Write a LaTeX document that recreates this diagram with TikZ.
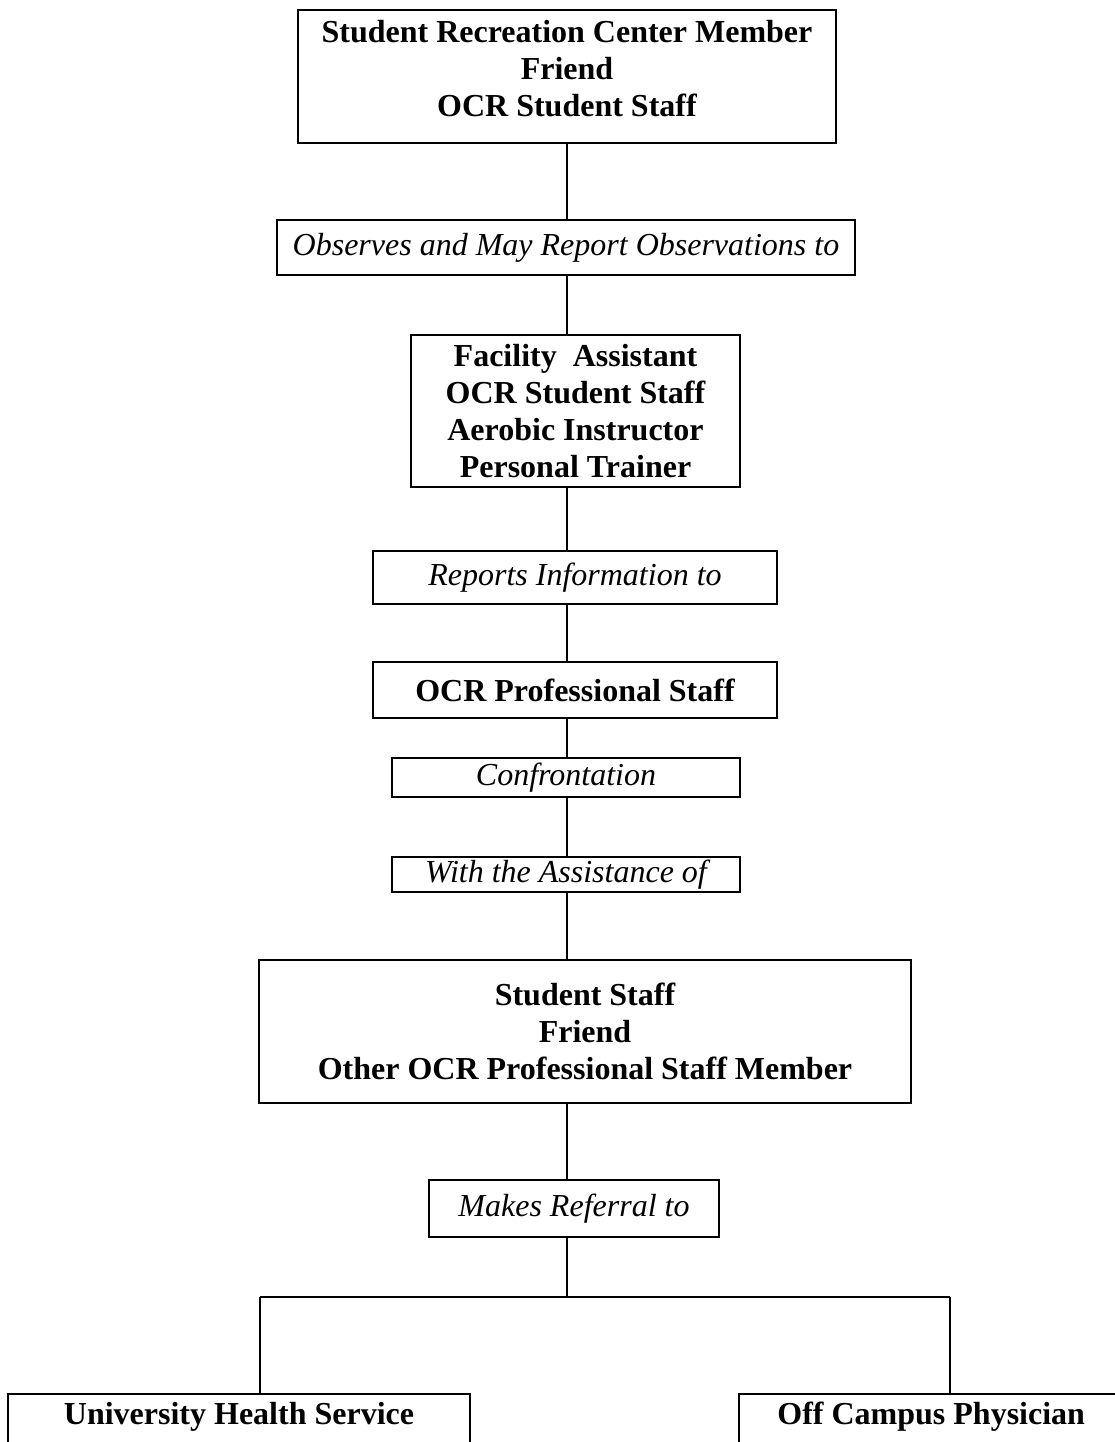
\documentclass[tikz,border=0pt]{standalone}
\usepackage{fontspec}
\setmainfont{Liberation Serif}
\tikzset{
  box/.style={draw, line width=1.2pt, align=center, inner sep=0pt,
    font=\fontsize{16}{18.5}\selectfont\bfseries},
  tag/.style={draw, line width=1.2pt, align=center, inner sep=0pt,
    font=\fontsize{16}{18.5}\selectfont\itshape},
  endbox/.style={draw, line width=1.2pt, inner sep=0pt, text height=15pt, text depth=45pt,
    font=\fontsize{16}{18.5}\selectfont\bfseries},
  link/.style={line width=1pt}
}
\begin{document}
\begin{tikzpicture}[x=0.5pt,y=-0.5pt]
  \clip (0,0) rectangle (1115,1442);
  \coordinate (spine) at (567,0);
  % boxes
  \node[box, minimum width=269pt, minimum height=66.5pt] (member) at (567,76.5)
    {Student Recreation Center Member\\Friend\\OCR Student Staff\\[-10pt]};
  \node[tag, minimum width=289pt, minimum height=27.5pt] (observes) at (566,247.5)
    {Observes and May Report Observations to};
  \node[box, minimum width=164.5pt, minimum height=76pt] (assist) at (575.5,411)
    {Facility~ Assistant\\OCR Student Staff\\Aerobic Instructor\\Personal Trainer};
  \node[tag, minimum width=202pt, minimum height=26.5pt] (reports) at (575,577.5)
    {Reports Information to};
  \node[box, minimum width=202pt, minimum height=28pt] (prof) at (575,690)
    {OCR Professional Staff};
  \node[tag, minimum width=174pt, minimum height=19.5pt] (confront) at (566,777.5)
    {Confrontation};
  \node[tag, minimum width=174pt, minimum height=17.5pt] (withof) at (566,874.5)
    {With the Assistance of};
  \node[box, minimum width=326pt, minimum height=71.5pt] (support) at (585,1031.5)
    {Student Staff\\Friend\\Other OCR Professional Staff Member};
  \node[tag, minimum width=145pt, minimum height=28.5pt] (referral) at (574,1208.5)
    {Makes Referral to};
  \node[endbox, anchor=north, minimum width=231pt] (uhs) at (239,1393)
    {University Health Service};
  \node[endbox, anchor=north west, minimum width=192pt] (physician) at (738,1393)
    {Off Campus Physician};
  % spine
  \draw[link] (spine |- member.south) -- (spine |- observes.north);
  \draw[link] (spine |- observes.south) -- (spine |- assist.north);
  \draw[link] (spine |- assist.south) -- (spine |- reports.north);
  \draw[link] (spine |- reports.south) -- (spine |- prof.north);
  \draw[link] (spine |- prof.south) -- (spine |- confront.north);
  \draw[link] (spine |- confront.south) -- (spine |- withof.north);
  \draw[link] (spine |- withof.south) -- (spine |- support.north);
  \draw[link] (spine |- support.south) -- (spine |- referral.north);
  %split
  \coordinate (split) at (567,1297);
  \coordinate (leftdrop) at (260,1297);
  \coordinate (rightdrop) at (950,1297);
  \draw[link] (spine |- referral.south) -- (split);
  \draw[link] (leftdrop) -- (rightdrop);
  \draw[link] (leftdrop) -- (leftdrop |- uhs.north);
  \draw[link] (rightdrop) -- (rightdrop |- physician.north);
\end{tikzpicture}
\end{document}
